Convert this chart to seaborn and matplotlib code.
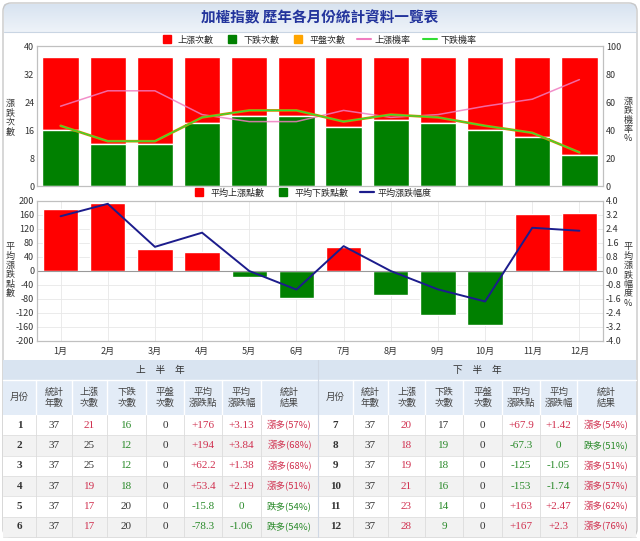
import numpy as np
import pandas as pd
import matplotlib
matplotlib.use("Agg")
import matplotlib.pyplot as plt
import matplotlib.patheffects as pe
from matplotlib.lines import Line2D
from matplotlib.patches import Rectangle, FancyBboxPatch
from matplotlib.colors import LinearSegmentedColormap
import seaborn as sns

# data ==============================================================================
months = ["1月", "2月", "3月", "4月", "5月", "6月", "7月", "8月", "9月", "10月", "11月", "12月"]
years = [37, 37, 37, 37, 37, 37, 37, 37, 37, 37, 37, 37]
up_count = [21, 25, 25, 19, 17, 17, 20, 18, 19, 21, 23, 28]
down_count = [16, 12, 12, 18, 20, 20, 17, 19, 18, 16, 14, 9]
flat_count = [0, 0, 0, 0, 0, 0, 0, 0, 0, 0, 0, 0]
up_rate = [57, 68, 68, 51, 46, 46, 54, 49, 51, 57, 62, 76]
down_rate = [43, 32, 32, 49, 54, 54, 46, 51, 49, 43, 38, 24]
avg_points = [176, 194, 62.2, 53.4, -15.8, -78.3, 67.9, -67.3, -125, -153, 163, 167]
avg_pct = [3.13, 3.84, 1.38, 2.19, 0, -1.06, 1.42, 0, -1.05, -1.74, 2.47, 2.3]

RED = "#ff0000"
GREEN = "#008000"
ORANGE = "#ffa500"
PINK = "#f07cc0"
LGREEN = "#33dd33"
NAVY = "#1c1c8c"
TXT = "#333333"
T_RED = "#d0304f"
T_GREEN = "#2a8a2a"

sns.set_style("white")
plt.rcParams['font.family'] = ['Noto Sans CJK TC', 'DejaVu Sans']
plt.rcParams['axes.unicode_minus'] = False

W, H = 640, 541
fig = plt.figure(figsize=(6.4, 5.41), dpi=100)


def box(l, t, r, b):
    return [l / W, 1 - b / H, (r - l) / W, (b - t) / H]


# background / frame ================================================================
bg = fig.add_axes([0, 0, 1, 1])
bg.set_xlim(0, W)
bg.set_ylim(H, 0)
bg.axis('off')
cmap = LinearSegmentedColormap.from_list("ban", ["#d8e3f0", "#eef3f9"])
bg.imshow(np.linspace(0, 1, 50).reshape(-1, 1), extent=(4, 636, 32, 4), aspect='auto',
          cmap=cmap, origin='upper', zorder=0)
bg.plot([4, 636], [32, 32], color="#c9d5e3", lw=0.8)
bg.add_patch(FancyBboxPatch((3, 3), 634, 534, boxstyle="round,pad=0,rounding_size=8",
                            fc="none", ec="#c8c8c8", lw=1))
bg.text(320, 17, "加權指數 歷年各月份統計資料一覽表", ha='center', va='center',
        fontsize=10.5, fontweight='bold', color="#23349c")

# chart 1: counts ====================================================================
df1 = pd.DataFrame({"月份": months, "up": up_count, "down": down_count, "flat": flat_count})
df1["total"] = df1["up"] + df1["down"] + df1["flat"]
df1["downflat"] = df1["down"] + df1["flat"]

ax1 = fig.add_axes(box(37, 46, 603, 186))
sns.barplot(data=df1, x="月份", y="total", color=RED, saturation=1, width=0.77,
            errorbar=None, ax=ax1)
sns.barplot(data=df1, x="月份", y="downflat", color=ORANGE, saturation=1, width=0.77,
            errorbar=None, ax=ax1)
sns.barplot(data=df1, x="月份", y="down", color=GREEN, saturation=1, width=0.77,
            errorbar=None, ax=ax1)
ax1.set_ylim(0, 40)
ax1.set_yticks(range(0, 41, 8))
ax1.set_xticks(range(12))
ax1.set_xticklabels([])
ax1.set_xlabel("")
ax1.set_ylabel("")

ax1r = ax1.twinx()
sns.lineplot(x=np.arange(12), y=up_rate, color=PINK, lw=1.1, alpha=0.85, ax=ax1r)
sns.lineplot(x=np.arange(12), y=down_rate, color=LGREEN, lw=0.9, ax=ax1r,
             path_effects=[pe.Stroke(linewidth=1.9, foreground="#d08a00"), pe.Normal()])
ax1r.set_ylim(0, 100)
ax1r.set_yticks(range(0, 101, 20))
ax1.set_xlim(-0.5, 11.5)

# chart 2: average points / pct =====================================================
df2 = pd.DataFrame({"月份": months, "點數": avg_points})
df2["類別"] = np.where(df2["點數"] >= 0, "平均上漲點數", "平均下跌點數")

ax2 = fig.add_axes(box(37, 201, 603, 341))
ax2.set_axisbelow(True)
sns.barplot(data=df2, x="月份", y="點數", hue="類別", dodge=False, saturation=1, width=0.75,
            palette={"平均上漲點數": RED, "平均下跌點數": GREEN}, errorbar=None,
            legend=False, ax=ax2)
ax2.set_ylim(-200, 200)
ax2.set_yticks(range(-200, 201, 40))
ax2.grid(True, color="#e8e8e8", lw=0.6)
ax2.axhline(0, color="#999999", lw=0.8, zorder=1)
ax2.set_xlabel("")
ax2.set_ylabel("")

ax2r = ax2.twinx()
sns.lineplot(x=np.arange(12), y=avg_pct, color=NAVY, lw=1.4, ax=ax2r)
ax2r.set_ylim(-4, 4)
rt = np.round(np.linspace(-4, 4, 11), 1)
ax2r.set_yticks(rt)
ax2r.set_yticklabels([f"{v + 0:.1f}" for v in rt])
ax2.set_xlim(-0.5, 11.5)

for a in (ax1, ax1r, ax2, ax2r):
    a.tick_params(length=0, labelsize=6.5, labelcolor=TXT, pad=2)
    a.set_ylabel("")
    for s in a.spines.values():
        s.set_color("#c0c0c0")
        s.set_linewidth(0.8)
ax2.tick_params(axis='x', labelsize=6.5, pad=4)

# axis titles (vertical stacked)
def vlabel(x, y, s):
    bg.text(x, y, "\n".join(s), ha='center', va='center', fontsize=6.5, color=TXT,
            linespacing=1.05)

vlabel(10, 118, "漲跌次數")
vlabel(628, 120, "漲跌機率%")
vlabel(10, 270, "平均漲跌點數")
vlabel(628, 275, "平均漲跌幅度%")

# legends
h1 = [Line2D([], [], marker='s', ls='none', color=RED, markersize=6),
      Line2D([], [], marker='s', ls='none', color=GREEN, markersize=6),
      Line2D([], [], marker='s', ls='none', color=ORANGE, markersize=6),
      Line2D([], [], color=PINK, lw=1.5),
      Line2D([], [], color=LGREEN, lw=1.5)]
fig.legend(h1, ["上漲次數", "下跌次數", "平盤次數", "上漲機率", "下跌機率"], loc='center',
           bbox_to_anchor=(318 / W, 1 - 40 / H), ncol=5, frameon=False, fontsize=6.5,
           handlelength=1.6, columnspacing=1.3, handletextpad=0.4)
h2 = [Line2D([], [], marker='s', ls='none', color=RED, markersize=6),
      Line2D([], [], marker='s', ls='none', color=GREEN, markersize=6),
      Line2D([], [], color=NAVY, lw=1.6)]
fig.legend(h2, ["平均上漲點數", "平均下跌點數", "平均漲跌幅度"], loc='center',
           bbox_to_anchor=(312 / W, 1 - 193 / H), ncol=3, frameon=False, fontsize=6.5,
           handlelength=1.6, columnspacing=1.3, handletextpad=0.4)

# table ==============================================================================
SERIF = ['Liberation Serif', 'DejaVu Serif']
headers = ["月份", "統計\n年數", "上漲\n次數", "下跌\n次數", "平盤\n次數", "平均\n漲跌點", "平均\n漲跌幅", "統計\n結果"]
muted_up = {1, 2}
muted_down = {4, 5, 6}
Y_G, Y_H, Y_D, RH = 360, 380, 415, 20.3


def fmt_pts(v):
    return f"{v:+g}"


def fmt_pct(v):
    return "0" if v == 0 else f"{v:+g}"


def draw_half(edges, rows, title):
    l, r = edges[0], edges[-1]
    bg.add_patch(Rectangle((l, Y_G), r - l, Y_H - Y_G, fc="#d9e4f1", ec="none"))
    bg.text((l + r) / 2, (Y_G + Y_H) / 2, title, ha='center', va='center', fontsize=7, color=TXT)
    bg.add_patch(Rectangle((l, Y_H), r - l, Y_D - Y_H, fc="#e3ecf7", ec="none"))
    bg.plot([l, r], [Y_H, Y_H], color="white", lw=1)
    for j, hd in enumerate(headers):
        cx = (edges[j] + edges[j + 1]) / 2
        bg.text(cx, (Y_H + Y_D) / 2, hd, ha='center', va='center', fontsize=6.8,
                color="#444444", linespacing=1.25)
        if j > 0:
            bg.plot([edges[j], edges[j]], [Y_H, Y_D], color="white", lw=1)
    for k, i in enumerate(rows):
        y0 = Y_D + k * RH
        bg.add_patch(Rectangle((l, y0), r - l, RH, fc="white" if k % 2 == 0 else "#f2f2f2",
                               ec="none"))
        bg.plot([l, r], [y0 + RH, y0 + RH], color="#e0e0e0", lw=0.6)
        up, dn = up_count[i], down_count[i]
        res = (f"漲多({round(up / years[i] * 100)}%)" if up > dn
               else f"跌多({round(dn / years[i] * 100)}%)")
        cells = [
            (str(i + 1), TXT, SERIF, 'bold'),
            (str(years[i]), TXT, SERIF, 'normal'),
            (str(up), TXT if i in muted_up else T_RED, SERIF, 'normal'),
            (str(dn), TXT if i in muted_down else T_GREEN, SERIF, 'normal'),
            (str(flat_count[i]), TXT, SERIF, 'normal'),
            (fmt_pts(avg_points[i]), T_RED if avg_points[i] > 0 else T_GREEN, SERIF, 'normal'),
            (fmt_pct(avg_pct[i]), T_RED if avg_pct[i] > 0 else T_GREEN, SERIF, 'normal'),
            (res, T_RED if up > dn else T_GREEN, None, 'normal'),
        ]
        for j, (s, c, fam, wt) in enumerate(cells):
            cx = (edges[j] + edges[j + 1]) / 2
            kw = dict(ha='center', va='center', color=c, fontweight=wt)
            if fam:
                bg.text(cx, y0 + RH / 2, s, fontsize=8, family=fam, **kw)
            else:
                bg.text(cx, y0 + RH / 2, s, fontsize=6.8, **kw)
    for e in edges[1:-1]:
        bg.plot([e, e], [Y_D, Y_D + RH * len(rows)], color="#dcdcdc", lw=0.6)


draw_half([3, 36, 72, 107, 146, 184, 222, 261, 318], range(0, 6), "上　半　年")
draw_half([318, 353, 388, 425, 463, 502, 540, 577, 636], range(6, 12), "下　半　年")
bg.plot([318, 318], [Y_G, Y_D + RH * 6], color="#d0d8e4", lw=0.8)

fig.savefig("out.png", dpi=100)
